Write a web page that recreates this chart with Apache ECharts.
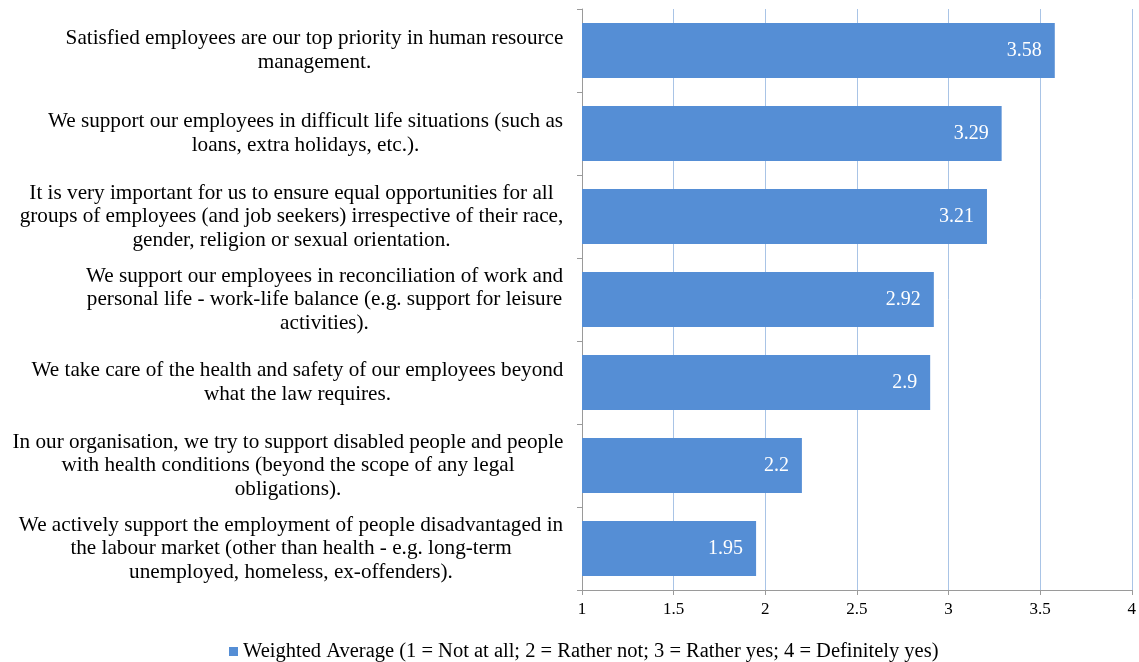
<!DOCTYPE html>
<html>
<head>
<meta charset="utf-8">
<script src="https://cdn.jsdelivr.net/npm/echarts@6/dist/echarts.min.js"></script>
<style>
html,body{margin:0;padding:0;background:#fff;}
#chart{width:1139px;height:662px;}
</style>
</head>
<body>
<div id="chart"></div>
<script>
const categories = [
  "Satisfied employees are our top priority in human resource\nmanagement.",
  "We support our employees in difficult life situations (such as\nloans, extra holidays, etc.).",
  "It is very important for us to ensure equal opportunities for all\ngroups of employees (and job seekers) irrespective of their race,\ngender, religion or sexual orientation.",
  "We support our employees in reconciliation of work and\npersonal life - work-life balance (e.g. support for leisure\nactivities).",
  "We take care of the health and safety of our employees beyond\nwhat the law requires.",
  "In our organisation, we try to support disabled people and people\nwith health conditions (beyond the scope of any legal\nobligations).",
  "We actively support the employment of people disadvantaged in\nthe labour market (other than health - e.g. long-term\nunemployed, homeless, ex-offenders)."
];
const values = [3.58, 3.29, 3.21, 2.92, 2.9, 2.2, 1.95];
const seriesName = "Weighted Average (1 = Not at all; 2 = Rather not; 3 = Rather yes; 4 = Definitely yes)";
const xTicks = { min: 1, max: 4, interval: 0.5 };

const FONT = '"Liberation Serif", "Times New Roman", serif';
const LABEL_SIZE = 21.2;
const ctx = document.createElement('canvas').getContext('2d');
ctx.font = LABEL_SIZE + 'px "Liberation Serif"';
const rich = {};
categories.forEach((c, i) => {
  const w = Math.max(...c.split('\n').map(l => ctx.measureText(l).width));
  rich['c' + i] = { width: Math.ceil(w) + 1, align: 'center', fontFamily: FONT, fontSize: LABEL_SIZE, color: '#000', lineHeight: 23.5 };
});

const chart = echarts.init(document.getElementById('chart'), null, { renderer: 'canvas' });
chart.setOption({
  animation: false,
  backgroundColor: '#fff',
  textStyle: { fontFamily: FONT },
  grid: { left: 582, right: 4, top: 9, bottom: 72, containLabel: false },
  legend: {
    left: 224, top: 636,
    itemWidth: 9, itemHeight: 9, itemGap: 5,
    icon: 'rect',
    textStyle: { fontFamily: FONT, fontSize: 20.5, color: '#000' },
    data: [seriesName]
  },
  xAxis: {
    type: 'value',
    min: xTicks.min, max: xTicks.max, interval: xTicks.interval,
    axisLine: { show: true, lineStyle: { color: '#9a9a9a', width: 1 } },
    axisTick: { show: true, length: 5, lineStyle: { color: '#9a9a9a' } },
    axisLabel: { fontFamily: FONT, fontSize: 17, color: '#000', margin: 11 },
    splitLine: { show: true, lineStyle: { color: '#a9c4e6', width: 1 } }
  },
  yAxis: {
    type: 'category',
    inverse: true,
    data: categories,
    axisLine: { show: true, lineStyle: { color: '#9a9a9a', width: 1 } },
    axisTick: { show: true, length: 5, lineStyle: { color: '#9a9a9a' } },
    axisLabel: {
      align: 'right',
      margin: 18,
      interval: 0,
      formatter: (v, i) => v.split('\n').map(l => '{c' + i + '|' + l + '}').join('\n'),
      rich: rich
    },
    splitLine: { show: false }
  },
  series: [{
    name: seriesName,
    type: 'bar',
    data: values,
    barCategoryGap: '34%',
    itemStyle: { color: '#558ed5' },
    label: {
      show: true,
      position: 'insideRight',
      distance: 13,
      color: '#fff',
      fontFamily: FONT,
      fontSize: 20
    }
  }]
});
</script>
</body>
</html>
